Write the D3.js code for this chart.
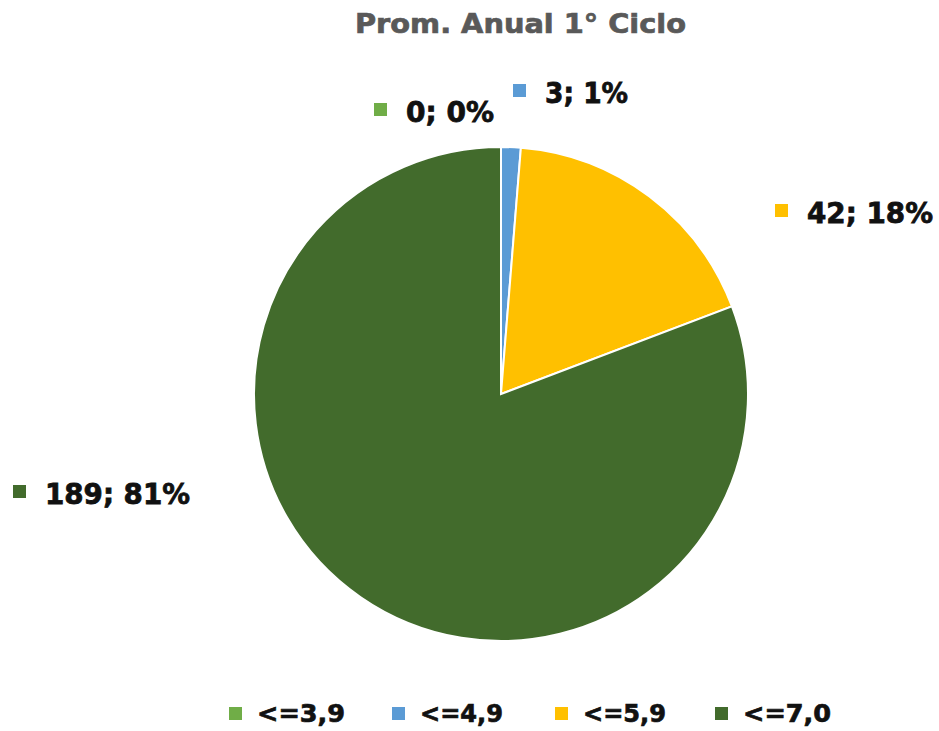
<!DOCTYPE html>
<html>
<head>
<meta charset="utf-8">
<script src="https://cdn.jsdelivr.net/npm/d3@7"></script>
<style>
  body { margin: 0; background: #fff; }
  text { font-family: "DejaVu Sans", "Liberation Sans", Arial, sans-serif; font-weight: bold; }
</style>
</head>
<body>
<div id="chart"></div>
<script>
// data
var categories = ["<=3,9", "<=4,9", "<=5,9", "<=7,0"];
var values = [0, 3, 42, 189];
var percents = ["0%", "1%", "18%", "81%"];
var colors = ["#70AD47", "#5B9BD5", "#FFC000", "#426B2C"];

var width = 939;
var height = 731;

var svg = d3.select("#chart")
  .append("svg")
  .attr("width", width)
  .attr("height", height);

// title -- stretched a bit so the thin font looks like the heavy original
svg.append("text")
  .attr("x", 355)
  .attr("y", 33)
  .attr("font-size", 27)
  .attr("fill", "#595959")
  .attr("stroke", "#595959")
  .attr("stroke-width", 0.7)
  .attr("textLength", 331)
  .attr("lengthAdjust", "spacingAndGlyphs")
  .text("Prom. Anual 1° Ciclo");

// pie
var cx = 501, cy = 394, r = 247;

var pie = d3.pie().sort(null).value(function(d) { return d; });
var arc = d3.arc().innerRadius(0).outerRadius(r);
var arcs = pie(values);

var g = svg.append("g").attr("transform", "translate(" + cx + "," + cy + ")");

g.selectAll("path")
  .data(arcs)
  .enter()
  .append("path")
  .attr("d", arc)
  .attr("fill", function(d, i) { return colors[i]; })
  .attr("stroke", "#fff")
  .attr("stroke-width", 2);

// data labels (placed like the original, outside the pie)
var labelPos = [[374, 122], [513, 103], [775, 223], [13, 504]];
var labelLen = [88, 83, 126, 145];

var labels = svg.selectAll("g.lbl")
  .data(arcs)
  .enter()
  .append("g")
  .attr("class", "lbl")
  .attr("transform", function(d, i) { return "translate(" + labelPos[i][0] + "," + labelPos[i][1] + ")"; });

labels.append("rect")
  .attr("x", 0)
  .attr("y", -19)
  .attr("width", 13)
  .attr("height", 13)
  .attr("fill", function(d, i) { return colors[i]; });

labels.append("text")
  .attr("x", 32)
  .attr("y", 0)
  .attr("font-size", 28)
  .attr("fill", "#111")
  .attr("stroke", "#111")
  .attr("stroke-width", 0.8)
  .attr("textLength", function(d, i) { return labelLen[i]; })
  .attr("lengthAdjust", "spacingAndGlyphs")
  .text(function(d, i) { return values[i] + "; " + percents[i]; });

// legend
var legendX = [229, 392, 555, 715];
var legendLen = [88, 83, 83, 88];
var legend = svg.selectAll("g.leg")
  .data(categories)
  .enter()
  .append("g")
  .attr("class", "leg")
  .attr("transform", function(d, i) { return "translate(" + legendX[i] + ",722)"; });

legend.append("rect")
  .attr("x", 0)
  .attr("y", -15)
  .attr("width", 13)
  .attr("height", 13)
  .attr("fill", function(d, i) { return colors[i]; });

legend.append("text")
  .attr("x", 28)
  .attr("y", 0)
  .attr("font-size", 24)
  .attr("fill", "#111")
  .attr("stroke", "#111")
  .attr("stroke-width", 0.7)
  .attr("textLength", function(d, i) { return legendLen[i]; })
  .attr("lengthAdjust", "spacingAndGlyphs")
  .text(function(d) { return d; });
</script>
</body>
</html>
